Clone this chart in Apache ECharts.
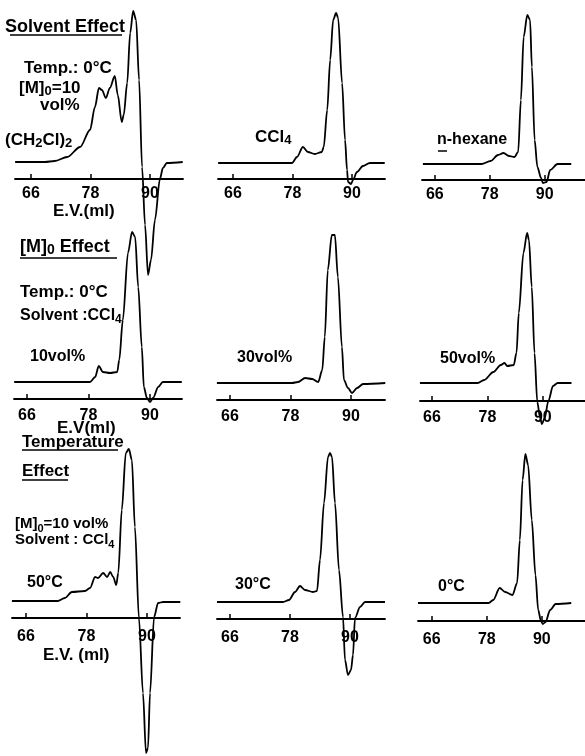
<!DOCTYPE html>
<html>
<head>
<meta charset="utf-8">
<title>GPC curves</title>
<script src="https://cdn.jsdelivr.net/npm/echarts@6/dist/echarts.min.js"></script>
<style>
  html, body { margin: 0; padding: 0; background: #fff; }
  #chart { width: 585px; height: 756px; }
</style>
</head>
<body>
<div id="chart"></div>
<script>
// elution volume ticks (ml)
const tickValues = [66, 78, 90];

// [E.V. (ml), detector signal], signal 0 is on the axis line
// solvent effect
const solventDCE = [[62.8, 17], [68.8, 17], [70.8, 18], [73.3, 22], [75.9, 32], [77.9, 49], [78.9, 72], [79.7, 91], [80.3, 89],
  [81.1, 81], [81.9, 91], [82.9, 103], [83.5, 84], [84.3, 57], [84.7, 64], [85.4, 96], [86.0, 146], [86.6, 168], [87.2, 159],
  [87.8, 99], [88.4, 12], [89.0, -46], [89.6, -96], [90.2, -81], [91.0, -41], [92.0, 0], [92.6, 11], [93.4, 16], [96.6, 17]];
const solventCCl4 = [[63.0, 16], [77.9, 16], [78.9, 22], [80.1, 32], [81.1, 27], [82.5, 25], [83.9, 27], [84.3, 32], [85.0, 69],
  [85.6, 119], [86.2, 159], [86.8, 166], [87.2, 161], [88.0, 96], [88.6, 39], [89.0, 9], [89.2, -3], [89.8, -5], [90.2, -1],
  [91.0, 7], [92.2, 13], [93.6, 16], [96.6, 16]];
const solventHexane = [[63.4, 16], [76.2, 16], [78.2, 19], [79.8, 25], [81.0, 27], [82.2, 24], [83.4, 23], [84.2, 28], [84.8, 80],
  [85.4, 143], [86.2, 165], [86.8, 160], [87.2, 113], [87.8, 40], [88.4, 13], [89.2, 2], [89.6, -3], [90.4, -2], [91.2, 10],
  [92.8, 16], [95.8, 16]];
// [M]0 effect, CCl4, 0 C
const conc10 = [[63.5, 17], [78.3, 17], [79.3, 22], [80.0, 33], [80.8, 27], [82.2, 26], [83.6, 27], [84.0, 39], [84.7, 79],
  [85.7, 146], [86.5, 167], [87.1, 162], [87.7, 112], [88.4, 52], [88.8, 12], [89.4, 1], [90.0, -3], [90.6, 1], [91.6, 12],
  [92.5, 17], [96.2, 17]];
const conc30 = [[63.4, 17], [78.3, 17], [79.5, 18], [80.9, 22], [82.3, 21], [83.5, 18], [84.3, 30], [84.8, 63], [85.4, 130],
  [86.2, 165], [86.8, 165], [87.4, 123], [88.2, 53], [88.6, 20], [89.4, 12], [90.2, 7], [91.2, 12], [92.4, 16], [96.8, 17]];
const conc50 = [[63.4, 18], [75.9, 18], [77.3, 21], [79.3, 29], [80.9, 36], [81.7, 38], [82.3, 35], [83.7, 36], [84.3, 48],
  [84.8, 88], [85.8, 148], [86.6, 168], [87.0, 161], [87.6, 114], [88.2, 48], [88.8, -1], [89.4, -17], [89.8, -23], [90.4, -17],
  [91.2, 0], [92.2, 15], [93.2, 18], [96.2, 18]];
// temperature effect, [M]0 = 10 vol%, CCl4
const temp50 = [[63.2, 17], [72.3, 17], [73.7, 20], [75.1, 26], [77.7, 27], [78.7, 30], [79.7, 41], [80.3, 40], [81.3, 45],
  [82.1, 41], [82.7, 46], [83.3, 41], [83.9, 33], [84.3, 45], [85.0, 108], [85.8, 165], [86.4, 169], [87.0, 158], [87.6, 91],
  [88.4, 0], [89.2, -75], [89.8, -135], [90.2, -130], [90.6, -75], [91.4, 1], [92.2, 15], [93.2, 16], [96.6, 16]];
const temp30 = [[63.4, 17], [76.6, 17], [77.8, 19], [79.0, 27], [80.0, 33], [81.0, 29], [82.6, 27], [83.4, 28], [84.0, 59],
  [84.8, 116], [85.6, 162], [86.0, 166], [86.4, 162], [87.0, 116], [87.8, 49], [88.6, 2], [89.0, -41], [89.6, -56], [90.2, -51],
  [90.6, -36], [91.0, 1], [92.0, 12], [93.0, 17], [97.0, 17]];
const temp0 = [[63.0, 18], [78.4, 18], [79.4, 21], [80.8, 33], [82.0, 29], [83.6, 26], [84.6, 38], [85.2, 81], [85.8, 141],
  [86.4, 167], [87.0, 156], [87.8, 101], [88.6, 46], [89.2, 11], [89.8, 0], [90.2, -3], [90.8, -1], [91.8, 11], [93.0, 17],
  [96.4, 18]];

// where each small plot sits on the page (px): axis ends, tick 66 / tick 90 and axis height
const panels = [
  { data: solventDCE, left: 15, right: 183, x66: 31, x90: 150, axisY: 179, margin: 7 },
  { data: solventCCl4, left: 218, right: 385, x66: 233, x90: 352, axisY: 179, margin: 7 },
  { data: solventHexane, left: 422, right: 600, x66: 436, x90: 556, axisY: 180, margin: 7 },
  { data: conc10, left: 14, right: 182, x66: 27, x90: 150, axisY: 399, margin: 9 },
  { data: conc30, left: 217, right: 385, x66: 230, x90: 351, axisY: 400, margin: 9 },
  { data: conc50, left: 420, right: 600, x66: 433, x90: 554, axisY: 401, margin: 9 },
  { data: temp50, left: 12, right: 180, x66: 26, x90: 147, axisY: 618, margin: 11 },
  { data: temp30, left: 217, right: 385, x66: 230, x90: 350, axisY: 619, margin: 11 },
  { data: temp0, left: 418, right: 600, x66: 433, x90: 553, axisY: 621, margin: 11 }
];
// 1 signal unit = 1 px; the dips below 0 are drawn under the axis (clip off)
const yTop = 175;

// hand lettering on the figure, {s|..} = subscript
const notes = [
  { text: 'Solvent Effect', x: 5, y: 27, size: 18, line: [10, 122, 35] },
  { text: 'Temp.: 0°C', x: 24, y: 68, size: 17 },
  { text: '[M]{s|0}=10', x: 19, y: 88, size: 17 },
  { text: 'vol%', x: 40, y: 105, size: 17 },
  { text: '(CH{s|2}Cl){s|2}', x: 5, y: 140, size: 17 },
  { text: 'E.V.(ml)', x: 53, y: 211, size: 17 },
  { text: 'CCl{s|4}', x: 255, y: 137, size: 17 },
  { text: 'n-hexane', x: 437, y: 140, size: 16, line: [438, 447, 151] },
  { text: '[M]{s|0} Effect', x: 20, y: 247, size: 18, line: [20, 117, 258] },
  { text: 'Temp.: 0°C', x: 20, y: 292, size: 17 },
  { text: 'Solvent :CCl{s|4}', x: 20, y: 316, size: 16 },
  { text: '10vol%', x: 30, y: 357, size: 16 },
  { text: 'E.V(ml)', x: 57, y: 428, size: 17 },
  { text: '30vol%', x: 237, y: 358, size: 16 },
  { text: '50vol%', x: 440, y: 359, size: 16 },
  { text: 'Temperature', x: 22, y: 442, size: 17, line: [22, 118, 450] },
  { text: 'Effect', x: 22, y: 471, size: 17, line: [22, 68, 480] },
  { text: '[M]{s|0}=10 vol%', x: 15, y: 524, size: 15 },
  { text: 'Solvent : CCl{s|4}', x: 15, y: 540, size: 15 },
  { text: '50°C', x: 27, y: 583, size: 16 },
  { text: 'E.V. (ml)', x: 43, y: 655, size: 17 },
  { text: '30°C', x: 235, y: 585, size: 16 },
  { text: '0°C', x: 438, y: 587, size: 16 }
];

const font = '"Liberation Sans", Arial, sans-serif';
const chart = echarts.init(document.getElementById('chart'));

const grid = [], xAxis = [], yAxis = [], series = [];
panels.forEach(function (p, i) {
  const k = (p.x90 - p.x66) / 24;
  grid.push({ left: p.left, width: p.right - p.left, top: p.axisY - yTop, height: yTop });
  xAxis.push({
    gridIndex: i,
    type: 'value',
    position: 'bottom',
    min: 66 - (p.x66 - p.left) / k,
    max: 90 + (p.right - p.x90) / k,
    splitLine: { show: false },
    axisLine: { onZero: false, lineStyle: { color: '#000', width: 1.8 } },
    axisTick: { inside: true, length: 5, customValues: tickValues, lineStyle: { color: '#000', width: 1.5 } },
    axisLabel: {
      customValues: tickValues, margin: p.margin, color: '#000',
      fontSize: 16, fontWeight: 'bold', fontFamily: font
    }
  });
  yAxis.push({ gridIndex: i, type: 'value', min: 0, max: yTop, show: false });
  series.push({
    type: 'line',
    xAxisIndex: i,
    yAxisIndex: i,
    data: p.data,
    smooth: 0.3,
    smoothMonotone: 'x',
    symbol: 'none',
    clip: false,
    lineStyle: { color: '#000', width: 1.8 }
  });
});

const graphic = [];
notes.forEach(function (n) {
  graphic.push({
    type: 'text',
    x: n.x,
    y: n.y,
    style: {
      text: n.text,
      fill: '#000',
      fontSize: n.size,
      fontWeight: 'bold',
      fontFamily: font,
      lineHeight: 20,
      verticalAlign: 'middle',
      rich: {
        s: {
          fontSize: n.size - 4, fontWeight: 'bold', fontFamily: font,
          fill: '#000', lineHeight: 10, verticalAlign: 'bottom'
        }
      }
    }
  });
  if (n.line) {
    graphic.push({
      type: 'line',
      shape: { x1: n.line[0], y1: n.line[2], x2: n.line[1], y2: n.line[2] },
      style: { stroke: '#000', lineWidth: 1.5 }
    });
  }
});

chart.setOption({
  animation: false,
  backgroundColor: '#fff',
  grid: grid,
  xAxis: xAxis,
  yAxis: yAxis,
  series: series,
  graphic: graphic
});
</script>
</body>
</html>
